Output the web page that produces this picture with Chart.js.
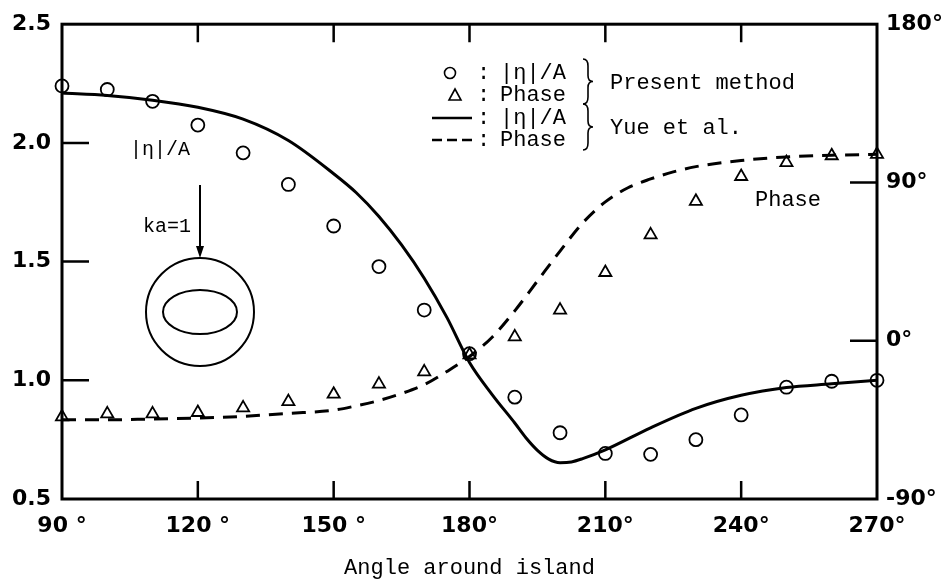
<!DOCTYPE html>
<html>
<head>
<meta charset="utf-8">
<script src="https://cdn.jsdelivr.net/npm/chart.js@4.4.1/dist/chart.umd.min.js"></script>
<style>
html, body { margin: 0; padding: 0; background: #fff; }
#wrap { width: 941px; height: 582px; }
</style>
</head>
<body>
<div id="wrap"><canvas id="chart" width="941" height="582"></canvas></div>
<script>
// present method (symbols), every 10 degrees
const angles = [90, 100, 110, 120, 130, 140, 150, 160, 170, 180, 190, 200, 210, 220, 230, 240, 250, 260, 270];
const ampPresent = [2.24, 2.225, 2.175, 2.075, 1.958, 1.825, 1.65, 1.479, 1.296, 1.112, 0.929, 0.779, 0.692, 0.688, 0.75, 0.854, 0.971, 0.996, 1.0];
const phasePresent = [-43.3, -41.6, -41.6, -40.8, -38.2, -34.6, -30.4, -24.7, -17.7, -8, 2.2, 17.4, 38.8, 60.2, 79.3, 93.4, 101.3, 105.2, 106];

// Yue et al. (curves)
const yueAmpAngles = [90, 100, 110, 120, 130, 140, 150, 155, 160, 165, 170, 175, 180, 185, 190, 192.5, 195, 197.5, 200, 202.5, 205, 210, 220, 230, 240, 250, 260, 270];
const yueAmp = [2.21, 2.2, 2.18, 2.15, 2.1, 2.01, 1.87, 1.79, 1.69, 1.57, 1.43, 1.265, 1.075, 0.94, 0.82, 0.757, 0.705, 0.668, 0.653, 0.656, 0.67, 0.707, 0.8, 0.882, 0.937, 0.97, 0.985, 1.0];
const yuePhaseAngles = [90, 100, 110, 120, 130, 140, 150, 155, 160, 165, 170, 175, 180, 185, 190, 195, 200, 205, 210, 215, 220, 225, 230, 240, 250, 260, 270];
const yuePhase = [-45, -45, -44.5, -44, -43, -41.3, -39.5, -37, -34, -30, -25, -17.5, -9, 2, 17, 34, 51, 67, 79, 87, 92, 96, 99, 102.5, 104.5, 105.5, 106];

// tick labels
const xTickLabels = { 90: '90 °', 120: '120 °', 150: '150 °', 180: '180°', 210: '210°', 240: '240°', 270: '270°' };
const rightTickLabels = { 180: '180°', 90: '90°', 0: '0°', '-90': '-90°' };

function pts(xs, ys) {
    return xs.map((x, i) => ({ x: x, y: ys[i] }));
}

const mono = '"Liberation Mono", "DejaVu Sans Mono", monospace';

function brace(ctx, x, top, bot) {
    const mid = (top + bot) / 2, w = 5;
    ctx.beginPath();
    ctx.moveTo(x, top);
    ctx.quadraticCurveTo(x + w, top, x + w, top + 7);
    ctx.lineTo(x + w, mid - 6);
    ctx.quadraticCurveTo(x + w, mid, x + 2 * w, mid);
    ctx.quadraticCurveTo(x + w, mid, x + w, mid + 6);
    ctx.lineTo(x + w, bot - 7);
    ctx.quadraticCurveTo(x + w, bot, x, bot);
    ctx.stroke();
}

// frame, inward ticks, legend and the little sketch
const frameAndNotes = {
    id: 'frameAndNotes',
    afterDatasetsDraw(chart) {
        const { ctx, chartArea: a, scales } = chart;
        ctx.save();
        ctx.strokeStyle = '#000';
        ctx.fillStyle = '#000';
        ctx.lineWidth = 3;
        ctx.strokeRect(a.left, a.top, a.right - a.left, a.bottom - a.top);

        ctx.lineWidth = 2.5;
        ctx.beginPath();
        scales.x.ticks.forEach(t => {
            if (t.value <= scales.x.min || t.value >= scales.x.max) return;
            const px = scales.x.getPixelForValue(t.value);
            ctx.moveTo(px, a.bottom); ctx.lineTo(px, a.bottom - 18);
            ctx.moveTo(px, a.top); ctx.lineTo(px, a.top + 18);
        });
        scales.y.ticks.forEach(t => {
            if (t.value <= scales.y.min || t.value >= scales.y.max) return;
            const py = scales.y.getPixelForValue(t.value);
            ctx.moveTo(a.left, py); ctx.lineTo(a.left + 27, py);
        });
        scales.y2.ticks.forEach(t => {
            if (t.value <= scales.y2.min || t.value >= scales.y2.max) return;
            const py = scales.y2.getPixelForValue(t.value);
            ctx.moveTo(a.right, py); ctx.lineTo(a.right - 27, py);
        });
        ctx.stroke();

        // legend
        ctx.font = '22px ' + mono;
        ctx.textBaseline = 'middle';
        ctx.textAlign = 'left';
        const rows = [73, 95, 118, 140];
        const names = ['|η|/A', 'Phase', '|η|/A', 'Phase'];
        rows.forEach((ry, i) => {
            ctx.fillText(':', 477, ry);
            ctx.fillText(names[i], 500, ry);
        });
        ctx.lineWidth = 1.6;
        ctx.beginPath();
        ctx.arc(450, rows[0], 5.5, 0, Math.PI * 2);
        ctx.stroke();
        ctx.beginPath();
        ctx.moveTo(455, rows[1] - 6);
        ctx.lineTo(461, rows[1] + 5);
        ctx.lineTo(449, rows[1] + 5);
        ctx.closePath();
        ctx.stroke();
        ctx.lineWidth = 2.5;
        ctx.beginPath();
        ctx.moveTo(432, rows[2]); ctx.lineTo(472, rows[2]);
        ctx.stroke();
        ctx.setLineDash([10, 5]);
        ctx.beginPath();
        ctx.moveTo(432, rows[3]); ctx.lineTo(474, rows[3]);
        ctx.stroke();
        ctx.setLineDash([]);
        ctx.lineWidth = 1.6;
        brace(ctx, 583, 59, 104);
        brace(ctx, 583, 104, 150);
        ctx.fillText('Present method', 610, 83);
        ctx.fillText('Yue et al.', 610, 128);

        // curve labels
        ctx.fillText('Phase', 755, 200);
        ctx.font = '20px ' + mono;
        ctx.fillText('|η|/A', 130, 150);
        ctx.textAlign = 'right';
        ctx.fillText('ka=1', 191, 227);

        // sketch: incident arrow, circle and elliptic island
        ctx.lineWidth = 2;
        ctx.beginPath();
        ctx.moveTo(200, 185); ctx.lineTo(200, 250);
        ctx.stroke();
        ctx.beginPath();
        ctx.moveTo(196, 246); ctx.lineTo(204, 246); ctx.lineTo(200, 258);
        ctx.closePath();
        ctx.fill();
        ctx.beginPath();
        ctx.arc(200, 312, 54, 0, Math.PI * 2);
        ctx.stroke();
        ctx.beginPath();
        ctx.ellipse(200, 312, 37, 22, 0, 0, Math.PI * 2);
        ctx.stroke();
        ctx.restore();
    }
};

const tickFont = { family: '"DejaVu Sans", sans-serif', weight: 'bold', size: 22 };

new Chart(document.getElementById('chart'), {
    type: 'scatter',
    data: {
        datasets: [
            {
                label: '|η|/A Yue et al.',
                data: pts(yueAmpAngles, yueAmp),
                showLine: true,
                yAxisID: 'y',
                borderColor: '#000',
                borderWidth: 3,
                pointRadius: 0,
                cubicInterpolationMode: 'monotone'
            },
            {
                label: 'Phase Yue et al.',
                data: pts(yuePhaseAngles, yuePhase),
                showLine: true,
                yAxisID: 'y2',
                borderColor: '#000',
                borderWidth: 3,
                borderDash: [14, 9],
                pointRadius: 0,
                cubicInterpolationMode: 'monotone'
            },
            {
                label: '|η|/A present',
                data: pts(angles, ampPresent),
                yAxisID: 'y',
                pointStyle: 'circle',
                pointRadius: 6.5,
                borderColor: '#000',
                borderWidth: 1.8,
                backgroundColor: 'rgba(0,0,0,0)'
            },
            {
                label: 'Phase present',
                data: pts(angles, phasePresent),
                yAxisID: 'y2',
                pointStyle: 'triangle',
                pointRadius: 7,
                borderColor: '#000',
                borderWidth: 1.8,
                backgroundColor: 'rgba(0,0,0,0)'
            }
        ]
    },
    options: {
        responsive: false,
        animation: false,
        clip: false,
        layout: { padding: { top: 19, left: 0, right: 0, bottom: 0 } },
        plugins: { legend: { display: false }, tooltip: { enabled: false } },
        scales: {
            x: {
                type: 'linear',
                min: 90, max: 270,
                grid: { display: false, drawTicks: false },
                border: { display: false },
                ticks: {
                    stepSize: 30,
                    padding: 14,
                    color: '#000',
                    font: tickFont,
                    maxRotation: 0,
                    callback: v => xTickLabels[v] || ''
                },
                title: {
                    display: true,
                    text: 'Angle around island',
                    color: '#000',
                    font: { family: mono, size: 22 },
                    padding: { top: 0, bottom: 1 }
                },
                afterFit: s => { s.height = 83; }
            },
            y: {
                position: 'left',
                min: 0.5, max: 2.5,
                grid: { display: false, drawTicks: false },
                border: { display: false },
                ticks: {
                    stepSize: 0.5,
                    padding: 11,
                    color: '#000',
                    font: tickFont,
                    callback: v => v.toFixed(1)
                },
                afterFit: s => { s.width = 62; }
            },
            y2: {
                position: 'right',
                min: -90, max: 180,
                grid: { display: false, drawTicks: false },
                border: { display: false },
                ticks: {
                    stepSize: 90,
                    padding: 9,
                    color: '#000',
                    font: tickFont,
                    callback: v => rightTickLabels[v] || ''
                },
                afterFit: s => { s.width = 64; }
            }
        }
    },
    plugins: [frameAndNotes]
});
</script>
</body>
</html>
